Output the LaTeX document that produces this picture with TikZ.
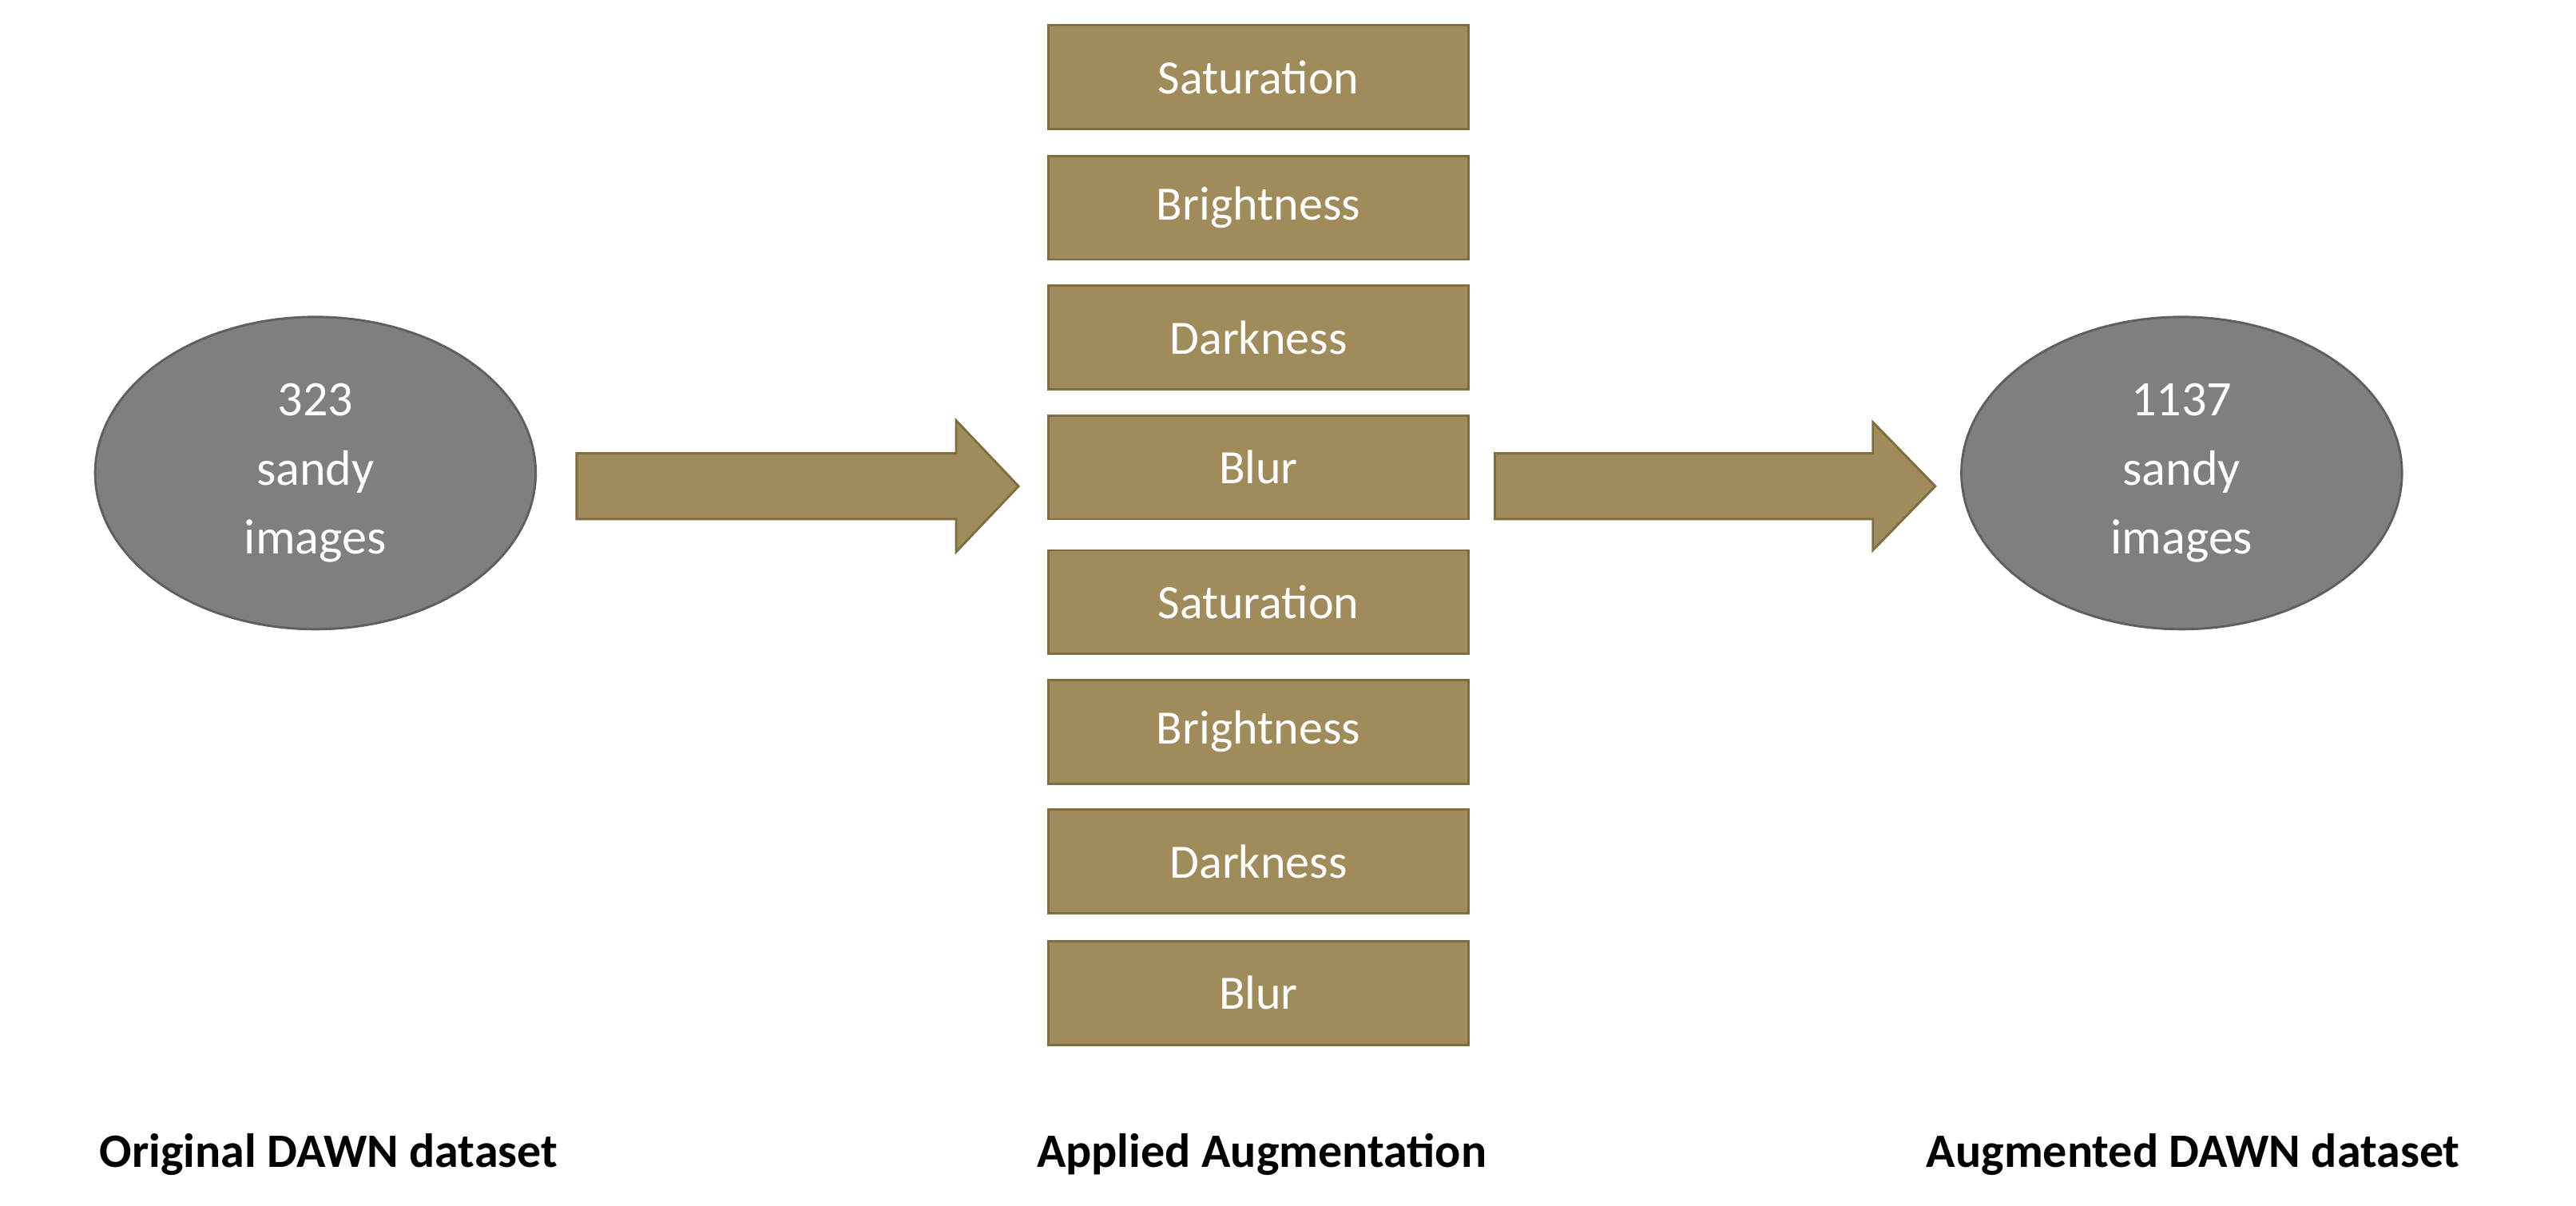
\documentclass[tikz,border=0pt]{standalone}
\usepackage{fontspec}
\setmainfont{Carlito}
\usetikzlibrary{shapes.geometric}
\definecolor{boxfill}{HTML}{A08C5B}
\definecolor{boxline}{HTML}{7F6E3F}
\definecolor{ellfill}{HTML}{7F7F7F}
\definecolor{ellline}{HTML}{5F5F5F}
\begin{document}
\begin{tikzpicture}[x=0.01cm,y=-0.01cm,
  box/.style={draw=boxline,fill=boxfill,line width=0.4pt,minimum width=2.56cm,minimum height=0.63cm,inner sep=0pt,text=white,font=\fontsize{8.3}{10}\selectfont},
  ell/.style={ellipse,draw=ellline,fill=ellfill,line width=0.4pt,minimum width=2.68cm,minimum height=1.9cm,inner sep=0pt,text=white,align=center,font=\fontsize{8.6}{12}\selectfont},
  lab/.style={font=\fontsize{8.3}{10}\selectfont\bfseries},
  barrow/.style={draw=boxline,fill=boxfill,line width=0.4pt}]
\useasboundingbox (0,0) rectangle (1568,734);
\node[ell] (src) at (192,288) {323\\sandy\\images};
\node[ell] (dst) at (1328,288) {1137\\sandy\\images};
\foreach \n/\y/\t in {b1/47/Saturation,b2/126.5/Brightness,b3/205.5/Darkness,b4/284.5/Blur,b5/366.5/Saturation,b6/445.5/Brightness,b7/524.5/Darkness,b8/604.5/Blur}
  \node[box] (\n) at (766,\y) {\t};
\coordinate (a1) at (351,296);
\coordinate (a2) at (910,296);
\draw[barrow] (a1) ++(0,-20) -- ++(231,0) -- ++(0,-20) -- (620,296) -- (582,336) -- ++(0,-20) -- ++(-231,0) -- cycle;
\draw[barrow] (a2) ++(0,-20) -- ++(230,0) -- ++(0,-19) -- (1178,296) -- (1140,335) -- ++(0,-19) -- ++(-230,0) -- cycle;
\node[lab] (l1) at (200,703) {Original DAWN dataset};
\node[lab] (l2) at (768,703) {Applied Augmentation};
\node[lab] (l3) at (1335,703) {Augmented DAWN dataset};
\end{tikzpicture}
\end{document}
